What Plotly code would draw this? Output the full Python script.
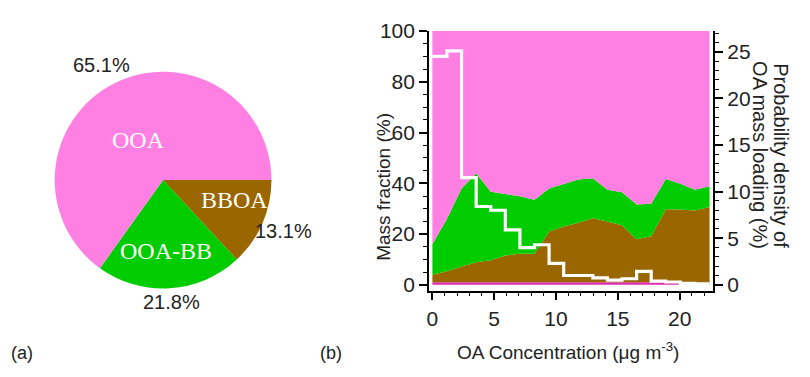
import plotly.graph_objects as go

# ---------------- data ----------------
pie_labels = ["BBOA", "OOA-BB", "OOA"]
pie_values = [13.1, 21.8, 65.1]
pie_colors = ["#996600", "#00CC00", "#FF7FE3"]

conc = [0.0, 1.18, 2.36, 3.54, 4.72, 5.90, 7.08, 8.26, 9.44, 10.62, 11.80,
        12.98, 14.16, 15.34, 16.52, 17.70, 18.88, 20.06, 21.24, 22.42]
frac_other = [1.0, 1.0, 1.0, 1.0, 1.0, 1.0, 1.0, 1.0, 1.0, 1.0, 1.0,
              1.0, 1.0, 1.0, 1.0, 1.0, 1.0, 0.6, 0.0, 0.0]
frac_bboa = [3.0, 4.3, 6.2, 7.9, 8.7, 10.6, 11.2, 11.2, 20.0, 22.0, 23.5,
             25.2, 24.0, 22.5, 17.0, 18.1, 28.8, 29.1, 29.3, 30.7]
frac_ooabb = [12.0, 20.7, 30.8, 35.1, 27.0, 24.2, 22.7, 21.3, 17.0, 16.7, 17.0,
              15.8, 12.5, 13.0, 13.7, 12.9, 11.9, 10.1, 8.2, 8.1]
frac_ooa = [84.0, 74.0, 62.0, 56.0, 63.3, 64.2, 65.1, 66.5, 62.0, 60.3, 58.5,
            58.0, 62.5, 63.5, 68.3, 68.0, 58.3, 60.2, 62.5, 61.2]
prob_density = [24.5, 25.1, 11.5, 8.4, 8.0, 5.9, 4.0, 4.3, 2.3, 1.0, 1.0,
                0.75, 0.5, 0.65, 1.45, 0.4, 0.3, 0.15, 0.1]

left_ticks = [0, 20, 40, 60, 80, 100]
right_ticks = [0, 5, 10, 15, 20, 25]
x_ticks = [0, 5, 10, 15, 20]

SANS = "Liberation Sans, Arial, sans-serif"
SERIF = "Liberation Serif, Times New Roman, serif"
W, H = 810, 377

def px(x):
    return x / W

def py(y):
    return 1 - y / H

fig = go.Figure()

# ---------------- pie (a) ----------------
cx, cy, r = 161.5, 176, 113.5
fig.add_trace(go.Pie(
    labels=pie_labels, values=pie_values, sort=False, direction="clockwise",
    rotation=90, marker=dict(colors=pie_colors, line=dict(width=0)),
    textinfo="none", hoverinfo="none", showlegend=False,
    domain=dict(x=[px(cx - r), px(cx + r)], y=[py(cy + r), py(cy - r)]),
))

inner_pos = [(233, 197), (164, 250), (137, 134)]
outer_pos = [(282, 229), (170, 304), (100, 56)]
annotations = []
for lab, val, (ix, iy), (ox, oy) in zip(pie_labels, pie_values, inner_pos, outer_pos):
    annotations.append(dict(x=px(ix), y=py(iy), xref="paper", yref="paper",
                            xanchor="center", yanchor="middle",
                            text=lab, showarrow=False,
                            font=dict(family=SERIF, size=24, color="white")))
    annotations.append(dict(x=px(ox), y=py(oy), xref="paper", yref="paper",
                            xanchor="center", yanchor="middle",
                            text=f"{val:.1f}%", showarrow=False,
                            font=dict(family=SANS, size=20, color="#222")))

# ---------------- stacked areas (b) ----------------
for name, vals, col in [("HOA", frac_other, "#DD2FAF"),
                        ("BBOA", frac_bboa, "#996600"),
                        ("OOA-BB", frac_ooabb, "#00CC00"),
                        ("OOA", frac_ooa, "#FF7FE3")]:
    fig.add_trace(go.Scatter(
        x=conc, y=vals, stackgroup="one", mode="lines", name=name,
        line=dict(width=0, color=col), fillcolor=col, showlegend=False,
        hoverinfo="skip", xaxis="x", yaxis="y"))

# probability density step line
fig.add_trace(go.Scatter(
    x=conc, y=prob_density + [prob_density[-1]], mode="lines",
    line=dict(color="white", width=3.2, shape="hv"), showlegend=False,
    hoverinfo="skip", xaxis="x", yaxis="y2"))

# ---------------- layout ----------------
xd = [px(428), px(713)]
yd = [py(291.7), py(20)]
axis_common = dict(showline=True, linecolor="black", linewidth=1.6,
                   ticks="outside", ticklen=8, tickwidth=1.6, tickcolor="black",
                   showgrid=False, zeroline=False,
                   tickfont=dict(family=SANS, size=21, color="#222"))

fig.update_layout(
    width=W, height=H, margin=dict(l=0, r=0, t=0, b=0),
    paper_bgcolor="white", plot_bgcolor="white",
    xaxis=dict(domain=xd, range=[-0.28, 22.72], anchor="y",
               tickvals=x_ticks, ticklabelstandoff=0,
               minor=dict(dtick=1, tick0=0, ticks="outside", ticklen=4,
                          tickwidth=1.4, tickcolor="black", showgrid=False),
               **axis_common),
    yaxis=dict(domain=yd, range=[-2.26, 100], anchor="x",
               tickvals=left_ticks,
               minor=dict(dtick=5, tick0=0, ticks="outside", ticklen=4,
                          tickwidth=1.4, tickcolor="black", showgrid=False),
               **axis_common),
    yaxis2=dict(domain=yd, range=[-0.615, 27.22], anchor="x", overlaying="y",
                side="right", tickvals=right_ticks,
                minor=dict(dtick=1, tick0=0, ticks="outside", ticklen=4,
                           tickwidth=1.4, tickcolor="black", showgrid=False),
                **axis_common),
)

def note(x, y, text, size=19, angle=0):
    return dict(x=px(x), y=py(y), xref="paper", yref="paper", text=text,
                xanchor="center", yanchor="middle", textangle=angle,
                showarrow=False, font=dict(family=SANS, size=size, color="#222"))

annotations += [
    note(383, 183, "Mass fraction (%)", angle=-90),
    note(781, 150, "Probability density of", size=20, angle=90),
    note(760, 150, "OA mass loading (%)", size=20, angle=90),
    note(567, 355, "OA Concentration (\u03bcg m<sup>-3</sup>)"),
    note(20, 357, "(a)", size=18),
    note(330, 357, "(b)", size=18),
]
fig.update_layout(annotations=annotations)

fig.write_html("out.html")
